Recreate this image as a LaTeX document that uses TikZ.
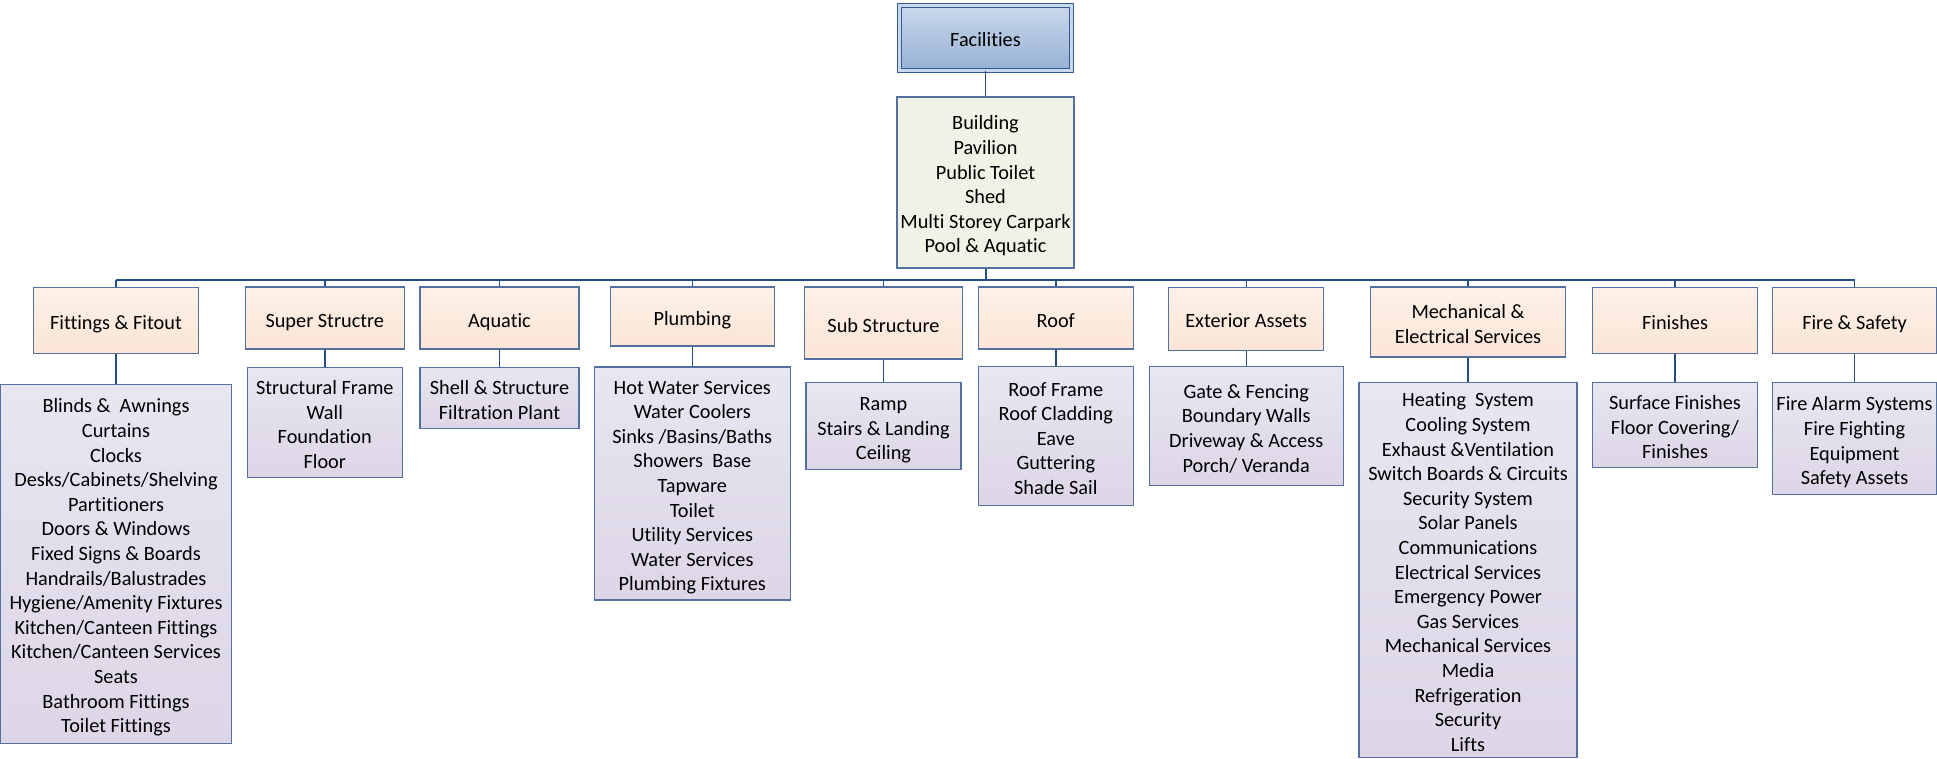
\documentclass[tikz,border=0pt]{standalone}
\usepackage{fontspec}
\setmainfont{Carlito}[Ligatures=NoCommon]
\usepackage{tikz}
\usetikzlibrary{positioning}
\usepackage{xcolor}
\definecolor{lineBlue}{RGB}{36,78,135}
\definecolor{boxEdge}{RGB}{83,113,160}
\definecolor{rootEdge}{RGB}{50,90,145}
\definecolor{rootPale}{RGB}{202,216,235}
\definecolor{rootTop}{RGB}{202,216,235}
\definecolor{rootBottom}{RGB}{150,177,212}
\definecolor{buildingFill}{RGB}{239,242,228}
\definecolor{catTop}{RGB}{253,241,232}
\definecolor{catBottom}{RGB}{251,229,214}
\definecolor{itemTop}{RGB}{233,229,241}
\definecolor{itemBottom}{RGB}{220,214,230}
\newcommand{\topstrut}{\rule{0pt}{23.5pt}}

\begin{document}
\begin{tikzpicture}[
  x=1pt, y=-1pt,
  every node/.style={rectangle, draw=boxEdge, line width=1.1pt, inner sep=0pt,
    align=center, font=\fontsize{20.3}{24.6}\selectfont,
    execute at begin node={\topstrut},
    execute at end node={\rule[-5.5pt]{0pt}{0pt}}},
  boxsize/.style 2 args={minimum width=#1pt, minimum height=#2pt},
  root/.style={draw=rootEdge, double=rootPale, double distance=2.6pt,
    line width=1.1pt, top color=rootTop, bottom color=rootBottom},
  assetType/.style={fill=buildingFill},
  category/.style={top color=catTop, bottom color=catBottom},
  items/.style={top color=itemTop, bottom color=itemBottom},
  link/.style={draw=lineBlue, line width=1.4pt},
  spine/.style={draw=lineBlue, line width=2pt}
]
\useasboundingbox (0,0) rectangle (1937,759);

\node[root, boxsize={172.2}{65.2}] (facilities) at (985.5,38) {Facilities};
\node[assetType, boxsize={177}{171}] (building) at (985.5,182.5)
  {\topstrut Building\\Pavilion\\Public Toilet\\Shed\\Multi Storey Carpark\\Pool \& Aquatic};

\node[category, boxsize={164.7}{66.3}] (fittings) at (116,320.2) {Fittings \& Fitout};
\node[category, boxsize={159.3}{62}] (superS) at (324.8,318) {Super Structre};
\node[category, boxsize={159}{62}] (aquatic) at (499.5,318) {Aquatic};
\node[category, boxsize={164.3}{59}] (plumbing) at (692.3,316.5) {Plumbing};
\node[category, boxsize={158.4}{72}] (subS) at (883.5,323) {Sub Structure};
\node[category, boxsize={155}{62}] (roof) at (1055.8,318) {Roof};
\node[category, boxsize={154.6}{63.3}] (exterior) at (1246.2,318.7) {Exterior Assets};
\node[category, boxsize={195.3}{70}] (mechElec) at (1468,322) {\topstrut Mechanical \&\\Electrical Services};
\node[category, boxsize={164.3}{66.3}] (finishes) at (1675,320.2) {Finishes};
\node[category, boxsize={163.6}{66.3}] (fireSafety) at (1854.5,320.2) {Fire \& Safety};

\node[items, boxsize={231}{359.3}] (fittingsList) at (116,563.7)
  {\topstrut Blinds \&\ \ Awnings\\Curtains\\Clocks\\Desks/Cabinets/Shelving\\Partitioners\\Doors \& Windows\\Fixed Signs \& Boards\\Handrails/Balustrades\\Hygiene/Amenity Fixtures\\Kitchen/Canteen Fittings\\Kitchen/Canteen Services\\Seats\\Bathroom Fittings\\Toilet Fittings};
\node[items, boxsize={155}{110}] (superList) at (324.8,422.3)
  {\topstrut Structural Frame\\Wall\\Foundation\\Floor};
\node[items, boxsize={159}{61}] (aquaticList) at (499.5,397.8)
  {\topstrut Shell \& Structure\\Filtration Plant};
\node[items, boxsize={196}{233}] (plumbingList) at (692.3,483.5)
  {\topstrut Hot Water Services\\Water Coolers\\Sinks /Basins/Baths\\Showers\ \ Base\\Tapware\\Toilet\\Utility Services\\Water Services\\Plumbing Fixtures};
\node[items, boxsize={155}{86.6}] (subList) at (883.5,426)
  {\topstrut Ramp\\Stairs \& Landing\\Ceiling};
\node[items, boxsize={155}{139}] (roofList) at (1055.8,436.2)
  {\topstrut Roof Frame\\Roof Cladding\\Eave\\Guttering\\Shade Sail};
\node[items, boxsize={194}{119}] (exteriorList) at (1246.2,426.2)
  {\topstrut Gate \& Fencing\\Boundary Walls\\Driveway \& Access\\Porch/ Veranda};
\node[items, boxsize={218}{374.6}] (mechElecList) at (1468,570)
  {\topstrut Heating\ \ System\\Cooling System\\Exhaust \&Ventilation\\Switch Boards \& Circuits\\Security System\\Solar Panels\\Communications\\Electrical Services\\Emergency Power\\Gas Services\\Mechanical Services\\Media\\Refrigeration\\Security\\Lifts};
\node[items, boxsize={164.3}{84.6}] (finishesList) at (1675,425)
  {\topstrut Surface Finishes\\Floor Covering/\\Finishes};
\node[items, boxsize={163.6}{112}] (fireSafetyList) at (1854.5,438.7)
  {\topstrut Fire Alarm Systems\\Fire Fighting\\Equipment\\Safety Assets};

\coordinate (bus) at (985.5,280);
\draw[link] (facilities) -- (building);
\draw[spine] (building) -- (bus);
\draw[spine] (bus -| fittings.north) -- (bus -| fireSafety.north);
\foreach \grp/\lst in {fittings/fittingsList, superS/superList, aquatic/aquaticList,
    plumbing/plumbingList, subS/subList, roof/roofList, exterior/exteriorList,
    mechElec/mechElecList, finishes/finishesList, fireSafety/fireSafetyList} {
  \draw[link] (bus -| \grp.north) -- (\grp.north);
  \draw[link] (\grp) -- (\lst);
}

\end{tikzpicture}
\end{document}
